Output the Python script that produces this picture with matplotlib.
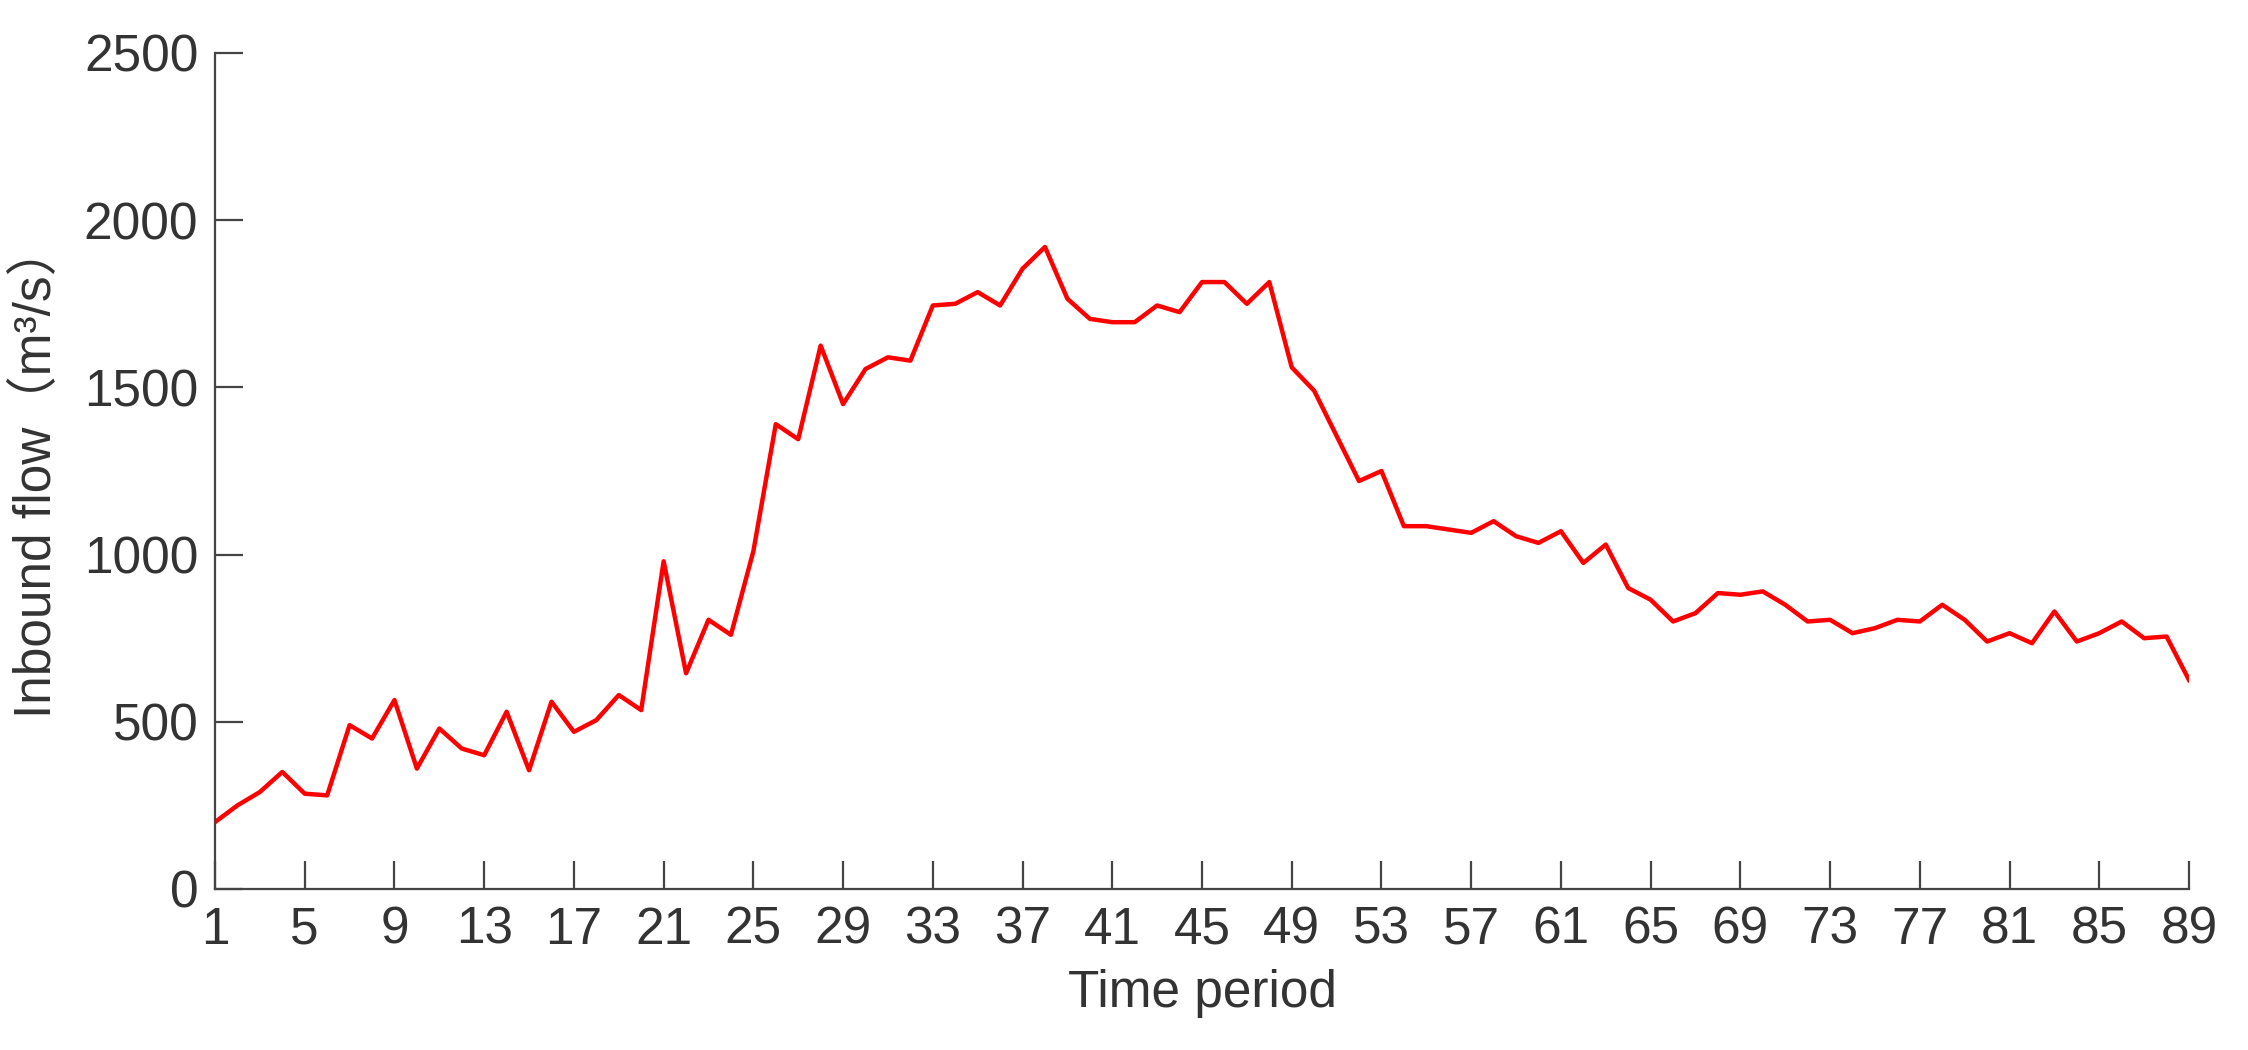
import numpy as np
import matplotlib
matplotlib.use("Agg")
import matplotlib.pyplot as plt

periods = np.arange(1, 90)
inflow = [200, 250, 290, 350, 285, 280, 490, 450, 565, 360,
          480, 420, 400, 530, 355, 560, 470, 505, 580, 535,
          980, 645, 805, 760, 1010, 1390, 1345, 1625, 1450, 1555,
          1590, 1580, 1745, 1750, 1785, 1745, 1855, 1920, 1765, 1705,
          1695, 1695, 1745, 1725, 1815, 1815, 1750, 1815, 1560, 1490,
          1355, 1220, 1250, 1085, 1085, 1075, 1065, 1100, 1055, 1035,
          1070, 975, 1030, 900, 865, 800, 825, 885, 880, 890,
          850, 800, 805, 765, 780, 805, 800, 850, 805, 740,
          765, 735, 830, 740, 765, 800, 750, 755, 625]
xticks = list(range(1, 90, 4))
yticks = [0, 500, 1000, 1500, 2000, 2500]

plt.rcParams['font.family'] = ['Liberation Sans', 'Noto Sans CJK SC', 'DejaVu Sans']

fig = plt.figure(figsize=(22.48, 10.5), dpi=100)
ax = fig.add_axes([215/2248, 1 - 889/1050, (2189-215)/2248, (889-53)/1050])
ax.plot(periods, inflow, color='#ff0000', lw=3.2)

ax.set_xlim(1, 89)
ax.set_ylim(0, 2500)
ax.set_xticks(xticks)
ax.set_yticks(yticks)
for s in ['top', 'right']:
    ax.spines[s].set_visible(False)
for s in ['left', 'bottom']:
    ax.spines[s].set_color('#444444')
    ax.spines[s].set_linewidth(1.6)
ax.tick_params(direction='in', length=20, width=1.6, colors='#444444',
               labelsize=37, labelcolor='#333333', pad=12)
ax.set_xlabel('Time period', fontsize=37, color='#333333', labelpad=10)
ax.set_ylabel('Inbound flow（m³/s）', fontsize=37, color='#333333', labelpad=16)

fig.savefig('out.png', dpi=100)
